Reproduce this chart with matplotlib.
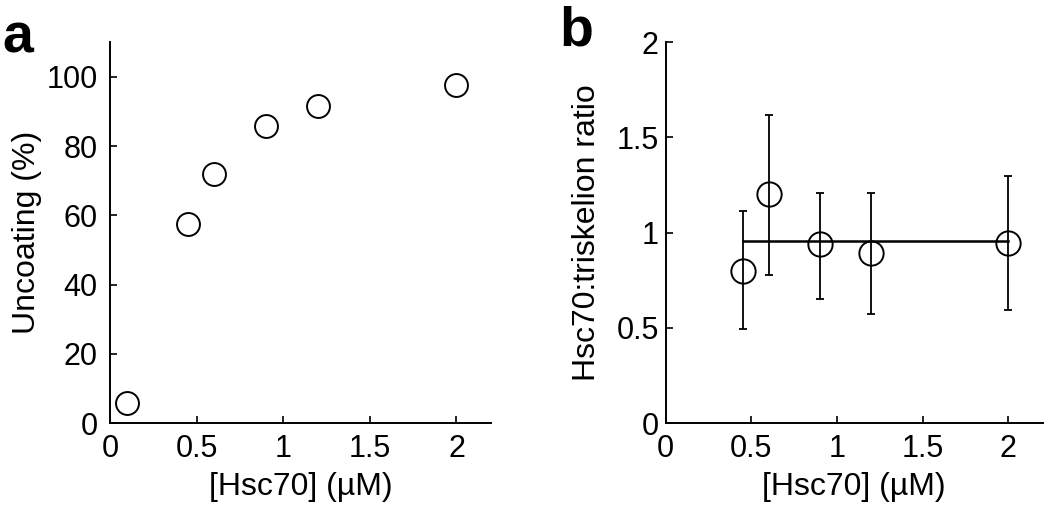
import matplotlib
matplotlib.use("Agg")
import matplotlib.pyplot as plt

plt.rcParams['font.family'] = ['Liberation Sans', 'DejaVu Sans']

# panel a: uncoating
conc_a = [0.1, 0.45, 0.6, 0.9, 1.2, 2.0]
uncoating = [5.8, 57.4, 72.0, 85.7, 91.5, 97.6]

# panel b: Hsc70:triskelion ratio
conc_b = [0.45, 0.6, 0.9, 1.2, 2.0]
ratio = [0.80, 1.20, 0.94, 0.895, 0.945]
err_hi = [1.115, 1.62, 1.21, 1.21, 1.295]
err_lo = [0.495, 0.775, 0.653, 0.572, 0.593]
mean_ratio = 0.955

x_ticks = [0, 0.5, 1, 1.5, 2]
x_ticklabels = ['0', '0.5', '1', '1.5', '2']

fig = plt.figure(figsize=(10.5, 5.14), dpi=100)
ax1 = fig.add_axes([0.1048, 0.177, 0.3629, 0.741])
ax2 = fig.add_axes([0.634, 0.177, 0.359, 0.741])

fs_tick = 22
fs_lab = 23

def style(ax, pad):
    ax.spines['top'].set_visible(False)
    ax.spines['right'].set_visible(False)
    for s in ('left', 'bottom'):
        ax.spines[s].set_linewidth(1.4)
    ax.tick_params(direction='in', length=5, width=1.2, labelsize=fs_tick)
    ax.tick_params(axis='y', pad=pad)
    ax.tick_params(axis='x', pad=8)
    ax.set_xlim(0, 2.2)
    ax.set_xticks(x_ticks)
    ax.set_xticklabels(x_ticklabels)
    ax.set_xlabel('[Hsc70] (\u00b5M)', fontsize=fs_lab, labelpad=6)

ax1.plot(conc_a, uncoating, 'o', mfc='white', mec='black', ms=16.5, mew=1.4, clip_on=False)
ax1.set_ylim(0, 110)
ax1.set_yticks([0, 20, 40, 60, 80, 100])
ax1.set_ylabel('Uncoating (%)', fontsize=fs_lab, labelpad=3)
style(ax1, 9)

lower = [r - l for r, l in zip(ratio, err_lo)]
upper = [h - r for r, h in zip(ratio, err_hi)]
ax2.plot([conc_b[0], conc_b[-1]], [mean_ratio, mean_ratio], '-', color='black', lw=1.8)
ax2.errorbar(conc_b, ratio, yerr=[lower, upper], fmt='none', ecolor='black',
             elinewidth=1.3, capsize=3, capthick=1.3)
ax2.plot(conc_b, ratio, 'o', mfc='none', mec='black', ms=17.5, mew=1.4)
ax2.set_ylim(0, 2)
ax2.set_yticks([0, 0.5, 1, 1.5, 2])
ax2.set_yticklabels(['0', '0.5', '1', '1.5', '2'])
ax2.set_ylabel('Hsc70:triskelion ratio', fontsize=fs_lab, labelpad=10)
style(ax2, 5)

fig.text(0.002, 0.975, 'a', fontsize=40, fontweight='bold', va='top', ha='left')
fig.text(0.533, 0.99, 'b', fontsize=40, fontweight='bold', va='top', ha='left')

fig.savefig('out.png', dpi=100)
